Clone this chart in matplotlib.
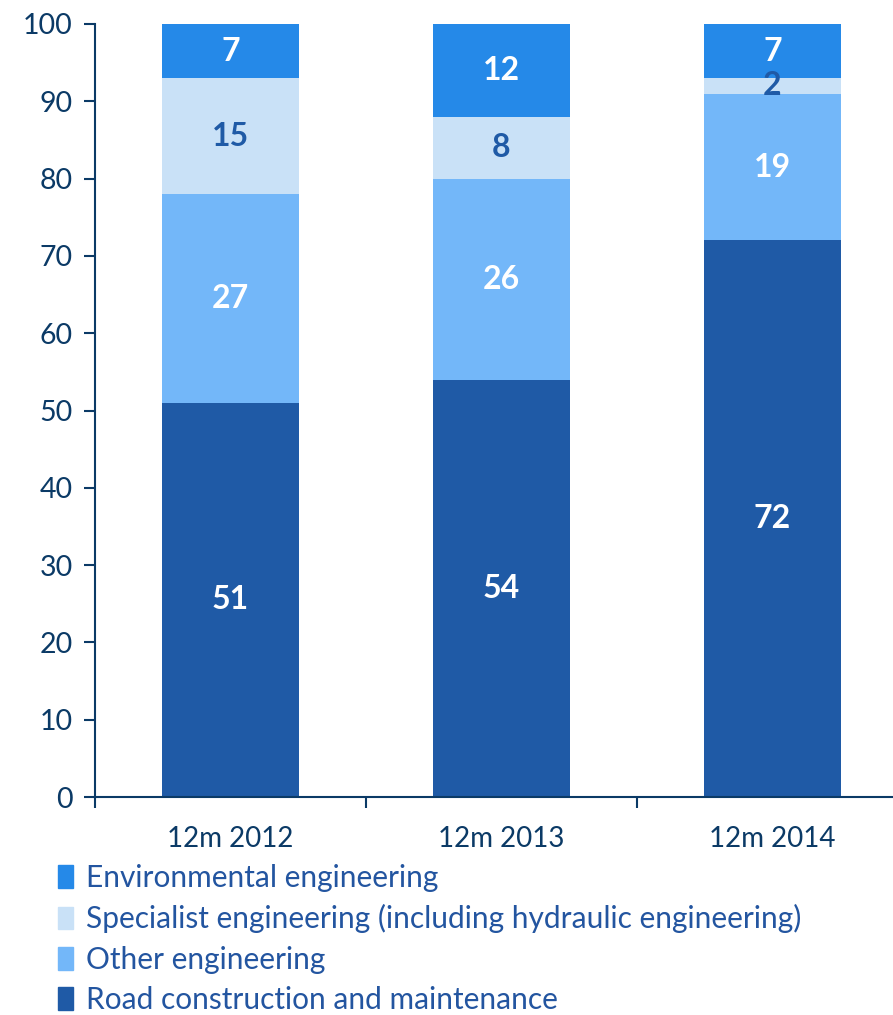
import numpy as np
import matplotlib.pyplot as plt
from matplotlib.patches import Patch

plt.rcParams["font.family"] = ["Lato", "DejaVu Sans"]

categories = ["12m 2012", "12m 2013", "12m 2014"]
road = [51, 54, 72]
other = [27, 26, 19]
specialist = [15, 8, 2]
environmental = [7, 12, 7]

series_names = [
    "Road construction and maintenance",
    "Other engineering",
    "Specialist engineering (including hydraulic engineering)",
    "Environmental engineering",
]
series_values = [road, other, specialist, environmental]
series_colors = ["#1F5AA6", "#73B7F9", "#C9E1F7", "#2589E8"]
label_colors = ["white", "white", "#1F5AA6", "white"]

axis_color = "#0B3A66"

fig = plt.figure(figsize=(8.93, 10.15), dpi=100)
ax = fig.add_axes([95 / 893, 218 / 1015, 813 / 893, 773 / 1015])

x = np.arange(len(categories))
bottom = np.zeros(len(categories))
for name, vals, col, lcol in zip(series_names, series_values, series_colors, label_colors):
    vals = np.array(vals, dtype=float)
    ax.bar(x, vals, width=0.506, bottom=bottom, color=col, label=name)
    for xi, b, v in zip(x, bottom, vals):
        ax.text(xi, b + v / 2, f"{v:.0f}", ha="center", va="center",
                fontsize=23, fontweight="bold", color=lcol)
    bottom += vals

ax.set_xlim(-0.5, 2.5)
ax.set_ylim(0, 100)
ax.set_yticks(np.arange(0, 101, 10))
ax.tick_params(axis="y", labelsize=20.5, colors=axis_color, length=8, width=1.5, pad=8)
ax.set_xticks(x)
ax.set_xticklabels(categories)
ax.tick_params(axis="x", which="major", length=0, labelsize=20, labelcolor=axis_color, pad=21)
ax.set_xticks([-0.5, 0.5, 1.5], minor=True)
ax.tick_params(axis="x", which="minor", length=8, width=1.5, color=axis_color)

for s in ["top", "right"]:
    ax.spines[s].set_visible(False)
for s in ["left", "bottom"]:
    ax.spines[s].set_color(axis_color)
    ax.spines[s].set_linewidth(1.5)

handles = [Patch(color=c) for c in series_colors[::-1]]
fig.legend(handles, series_names[::-1], loc="upper left",
           bbox_to_anchor=(58 / 893, (1015 - 864) / 1015), frameon=False,
           fontsize=21.5, labelcolor="#2355A0", handlelength=0.5,
           handleheight=0.8, handletextpad=0.45, labelspacing=0.41,
           borderaxespad=0, borderpad=0)

fig.savefig("out.png", dpi=100)
